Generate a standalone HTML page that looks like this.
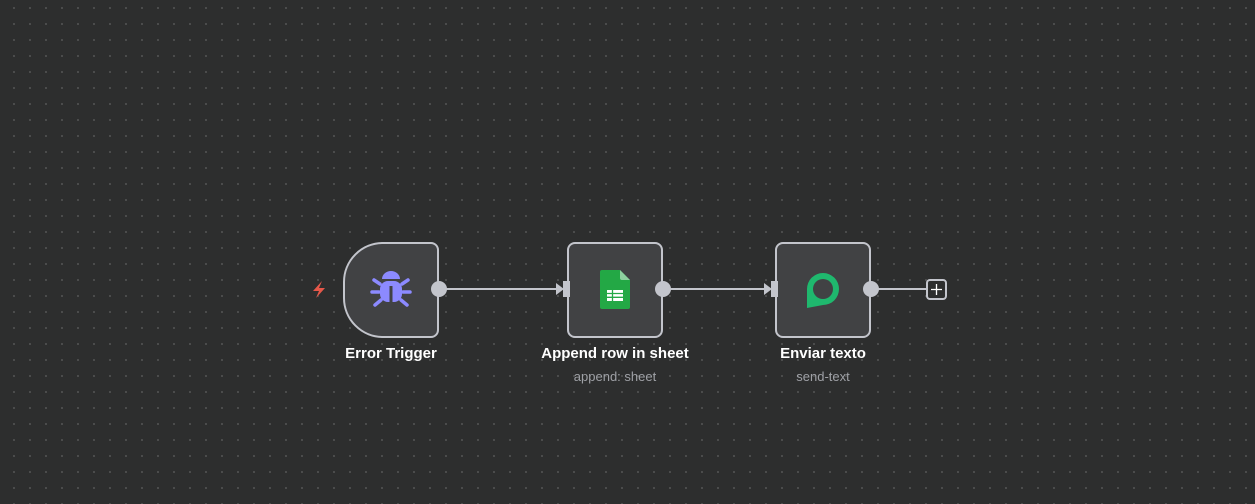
<!DOCTYPE html>
<html><head><style>
body{margin:0;width:1255px;height:504px;overflow:hidden;background:#2d2e2e;
background-image:radial-gradient(circle,#666 0.7px,transparent 0.9px);background-size:16px 16px;background-position:6px 0px;font-family:"Liberation Sans",sans-serif;position:relative}
.n{position:absolute;top:242px;width:92px;height:92px;border:2px solid #c3c5cc;border-radius:8px;background:#414244;box-sizing:content-box}
.t{position:absolute;top:345px;width:240px;text-align:center;color:#fff;font-size:15px;font-weight:bold}
.s{position:absolute;top:369px;width:240px;text-align:center;color:#9fa1a6;font-size:13px}
</style></head><body>
<svg width="1255" height="504" style="position:absolute;left:0;top:0">
<line x1="438" y1="289" x2="560" y2="289" stroke="#c3c5cc" stroke-width="2"/>
<line x1="662" y1="289" x2="768" y2="289" stroke="#c3c5cc" stroke-width="2"/>
<line x1="870" y1="289" x2="926" y2="289" stroke="#c3c5cc" stroke-width="2"/>
</svg>
<div class="n" style="left:343px;border-radius:40px 8px 8px 40px"></div>
<div class="n" style="left:567px"></div>
<div class="n" style="left:775px"></div>
<svg width="1255" height="504" style="position:absolute;left:0;top:0">
<path d="M322 281 L313 291 L319 291 L316 298 L325 288 L319 288 Z" fill="#e5584a"/>
<circle cx="439" cy="289" r="8" fill="#c3c5cc"/>
<circle cx="663" cy="289" r="8" fill="#c3c5cc"/>
<circle cx="871" cy="289" r="8" fill="#c3c5cc"/>
<path d="M556 283 L564 289 L556 295 Z" fill="#c3c5cc"/><rect x="563" y="281" width="7" height="16" fill="#c3c5cc"/>
<path d="M764 283 L772 289 L764 295 Z" fill="#c3c5cc"/><rect x="771" y="281" width="7" height="16" fill="#c3c5cc"/>
<rect x="927" y="280" width="19" height="19" rx="3" fill="#2d2e2e" stroke="#c3c5cc" stroke-width="2"/>
<path d="M936.5 284 v11 M931 289.5 h11" stroke="#fff" stroke-width="1.3"/>
<g fill="#8c8aff" stroke="#8c8aff">
<path d="M382 279 a9 8 0 0 1 18 0 Z" stroke="none"/>
<rect x="380" y="281" width="22" height="21" rx="8" stroke="none"/>
<g stroke-width="3.5" stroke-linecap="round" fill="none">
<path d="M380 284 l-6 -4 M402 284 l6 -4 M379 292 h-7 M403 292 h7 M381 300 l-6 5 M401 300 l6 5"/>
</g>
<rect x="389.5" y="286" width="3" height="16" fill="#414244" stroke="none"/>
</g>
<path d="M602 270 h18 l10 10 v27 a2 2 0 0 1 -2 2 h-26 a2 2 0 0 1 -2 -2 v-35 a2 2 0 0 1 2 -2z" fill="#23a845"/>
<path d="M620 270 l10 10 h-8 a2 2 0 0 1 -2 -2z" fill="#8ed1a0"/>
<rect x="607" y="290" width="16" height="11" fill="#fff"/>
<path d="M607 293.5 h16 M607 297.3 h16 M612.5 290 v11" stroke="#23a845" stroke-width="1.3"/>
<path d="M806 308 v-19 a16 16 0 1 1 16 16 z" fill="#1fb86e" transform="translate(1,0)"/>
<circle cx="823" cy="289" r="10" fill="#414244"/>
</svg>
<div class="t" style="left:271px">Error Trigger</div>
<div class="t" style="left:495px">Append row in sheet</div>
<div class="s" style="left:495px">append: sheet</div>
<div class="t" style="left:703px">Enviar texto</div>
<div class="s" style="left:703px">send-text</div>
</body></html>
